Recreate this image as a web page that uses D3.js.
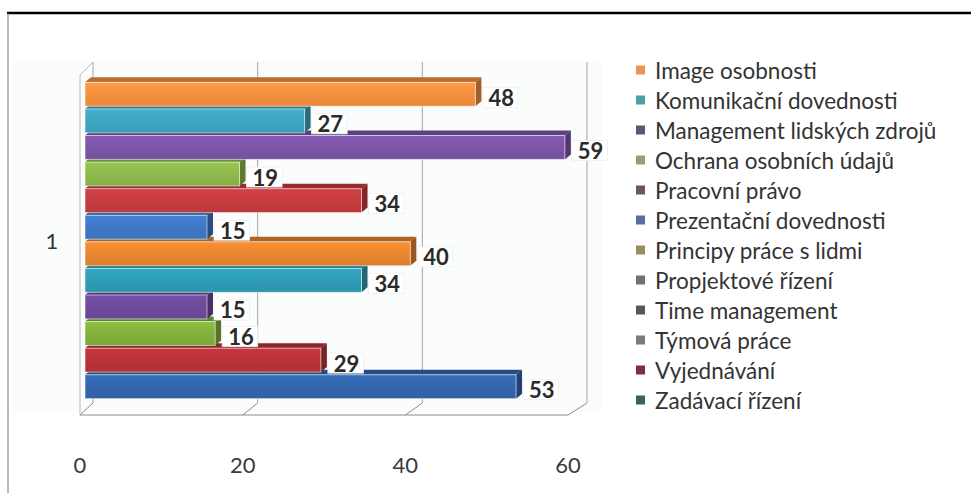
<!DOCTYPE html>
<html>
<head>
<meta charset="utf-8">
<script src="https://cdn.jsdelivr.net/npm/d3@7"></script>
<style>
  html, body { margin: 0; padding: 0; background: #fff; }
  svg { display: block; }
  text { font-family: Lato, "Liberation Sans", sans-serif; }
</style>
</head>
<body>
<svg id="chart" width="971" height="493"></svg>
<script>
// Course topics (one series each, single category "1")
const categories = ["1"];
const seriesNames = [
  "Image osobnosti",
  "Komunikační dovednosti",
  "Management lidských zdrojů",
  "Ochrana osobních údajů",
  "Pracovní právo",
  "Prezentační dovednosti",
  "Principy práce s lidmi",
  "Propjektové řízení",
  "Time management",
  "Týmová práce",
  "Vyjednávání",
  "Zadávací řízení"
];
const seriesValues = [48, 27, 59, 19, 34, 15, 40, 34, 15, 16, 29, 53];
const barColors = [
  "#f5913f", "#3ea6c2", "#7d55a8", "#8dba4b", "#c63c3f", "#3f78c6",
  "#e9862f", "#2f9db7", "#6f4a9c", "#82b23c", "#bb3238", "#3366ae"
];
const legendColors = [
  "#eb9458", "#4aa0a2", "#5b5672", "#9c9c7a", "#6b5662", "#5b6b9b",
  "#9c8b62", "#6b7272", "#515959", "#7b7b7b", "#7b3142", "#3b6262"
];
const xTicks = [0, 20, 40, 60];

const svg = d3.select("#chart");

// Frame lines
svg.append("line").attr("x1", 7).attr("x2", 971).attr("y1", 13).attr("y2", 13)
  .attr("stroke", "#000").attr("stroke-width", 2.5);
svg.append("line").attr("x1", 8).attr("x2", 8).attr("y1", 13).attr("y2", 493)
  .attr("stroke", "#777").attr("stroke-width", 1);

// Faint plot-area tint
svg.append("rect").attr("x", 12).attr("y", 62).attr("width", 590).attr("height", 350)
  .attr("fill", "#fbfdfd");

// 3D geometry: front edge, back wall, bar plane
const xFront = d3.scaleLinear().domain([0, 60]).range([80, 568]);
const xBack = d3.scaleLinear().domain([0, 60]).range([93, 587]);
const xBar = d3.scaleLinear().domain([0, 60]).range([85, 573]);
const floorFrontY = 415, floorBackY = 403, wallTopY = 62, sideTopY = 75;
const depth = { dx: 6, dy: -5 };

const y = d3.scaleBand()
  .domain(d3.range(seriesValues.length))
  .range([81, 400])
  .paddingInner(0.1)
  .paddingOuter(0.05);

const walls = svg.append("g");
// back wall gridlines
walls.selectAll("line.grid").data(xTicks).join("line")
  .attr("class", "grid")
  .attr("x1", d => xBack(d)).attr("x2", d => xBack(d))
  .attr("y1", wallTopY).attr("y2", floorBackY)
  .attr("stroke", "#a3a3a3").attr("stroke-width", 1);
// floor ticks
walls.selectAll("line.floor").data(xTicks).join("line")
  .attr("class", "floor")
  .attr("x1", d => xFront(d)).attr("y1", floorFrontY)
  .attr("x2", d => xBack(d)).attr("y2", floorBackY)
  .attr("stroke", "#8c8c8c").attr("stroke-width", 1);
// floor front edge
walls.append("line")
  .attr("x1", xFront(0)).attr("x2", xFront(60))
  .attr("y1", floorFrontY).attr("y2", floorFrontY)
  .attr("stroke", "#8c8c8c").attr("stroke-width", 1.2);
// side wall edges
walls.append("line")
  .attr("x1", xFront(0)).attr("x2", xFront(0))
  .attr("y1", sideTopY).attr("y2", floorFrontY)
  .attr("stroke", "#b8b8b8").attr("stroke-width", 1);
walls.append("line")
  .attr("x1", xFront(0)).attr("y1", sideTopY)
  .attr("x2", xBack(0)).attr("y2", wallTopY)
  .attr("stroke", "#b8b8b8").attr("stroke-width", 1);

// Gradients for bar fronts
const defs = svg.append("defs");
barColors.forEach((c, i) => {
  const g = defs.append("linearGradient").attr("id", "bg" + i)
    .attr("x1", 0).attr("x2", 0).attr("y1", 0).attr("y2", 1);
  g.append("stop").attr("offset", "0%").attr("stop-color", d3.color(c).brighter(0.2));
  g.append("stop").attr("offset", "45%").attr("stop-color", c);
  g.append("stop").attr("offset", "100%").attr("stop-color", d3.color(c).darker(0.15));
});

// Bars, drawn bottom to top so upper fronts cover lower top faces
const bars = svg.append("g");
const order = d3.range(seriesValues.length).reverse();
order.forEach(i => {
  const v = seriesValues[i];
  const x0 = xBar(0), x1 = xBar(v);
  const y0 = y(i), h = y.bandwidth();
  const c = barColors[i];
  const g = bars.append("g");
  // top face
  g.append("path")
    .attr("d", `M${x0},${y0} L${x0 + depth.dx},${y0 + depth.dy} L${x1 + depth.dx},${y0 + depth.dy} L${x1},${y0} Z`)
    .attr("fill", d3.color(c).darker(0.8));
  // end cap
  g.append("path")
    .attr("d", `M${x1},${y0} L${x1 + depth.dx},${y0 + depth.dy} L${x1 + depth.dx},${y0 + h + depth.dy} L${x1},${y0 + h} Z`)
    .attr("fill", d3.color(c).darker(1.2));
  // front face
  g.append("rect")
    .attr("x", x0).attr("y", y0).attr("width", x1 - x0).attr("height", h)
    .attr("fill", `url(#bg${i})`)
    .attr("stroke", "rgba(255,255,255,0.55)").attr("stroke-width", 1);
});

// Value labels
const labels = svg.append("g");
seriesValues.forEach((v, i) => {
  const lx = xBar(v) + depth.dx;
  const cy = y(i) + y.bandwidth() / 2 + 3;
  const t = labels.append("text")
    .attr("x", lx + 7).attr("y", cy)
    .attr("dominant-baseline", "central")
    .attr("font-size", 22).attr("font-weight", 700)
    .attr("fill", "#2a2a2a")
    .text(v);
  const w = t.node().getComputedTextLength();
  labels.insert("rect", "text")
    .attr("x", lx + 1).attr("y", cy - 10)
    .attr("width", w + 10).attr("height", 20)
    .attr("fill", "#fff").attr("stroke", "#eeeeee").attr("stroke-width", 0.8);
});

// Category label
svg.append("text")
  .attr("x", 52).attr("y", (y.range()[0] + y.range()[1]) / 2)
  .attr("text-anchor", "middle").attr("dominant-baseline", "central")
  .attr("font-size", 22).attr("fill", "#333")
  .text(categories[0]);

// Value axis labels
svg.append("g").selectAll("text").data(xTicks).join("text")
  .attr("x", d => xFront(d)).attr("y", 464)
  .attr("text-anchor", "middle").attr("dominant-baseline", "central")
  .attr("font-size", 22).attr("fill", "#3a3a3a")
  .text(d => d);

// Legend
const legend = svg.append("g");
seriesNames.forEach((name, i) => {
  const ly = 70 + i * 30;
  legend.append("rect")
    .attr("x", 636).attr("y", ly - 4.5).attr("width", 9).attr("height", 9)
    .attr("fill", legendColors[i]);
  legend.append("text")
    .attr("x", 655).attr("y", ly)
    .attr("dominant-baseline", "central")
    .attr("font-size", 22.5).attr("fill", "#333")
    .text(name);
});
</script>
</body>
</html>
